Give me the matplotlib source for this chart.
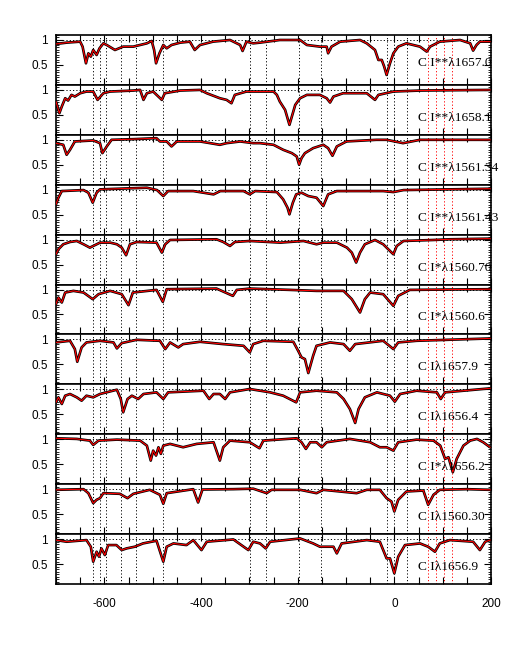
import matplotlib
matplotlib.use('Agg')
import matplotlib.pyplot as plt
from matplotlib.ticker import MultipleLocator, FixedLocator

# ---------------- data ----------------
labels = ["C I**λ1657.0", "C I**λ1658.1", "C I**λ1561.34", "C I**λ1561.43",
          "C I*λ1560.70", "C I*λ1560.6", "C Iλ1657.9", "C Iλ1656.4",
          "C I*λ1656.2", "C Iλ1560.30", "C Iλ1656.9"]

vel1 = [-700, -678, -650, -645, -638, -633, -628, -623, -616, -610, -602, -595, -578, -561, -540,
        -512, -502, -497, -493, -486, -478, -471, -461, -443, -423, -413, -402, -375, -340, -319,
        -314, -306, -292, -278, -237, -195, -181, -154, -140, -137, -130, -112, -71, -57, -40,
        -33, -26, -21, -16, -9, -2, 8, 25, 53, 67, 74, 94, 136, 157, 163, 170, 177, 198]
flux1 = [0.92, 0.947, 0.967, 0.867, 0.533, 0.733, 0.667, 0.8, 0.7, 0.833, 0.933, 0.9, 0.8, 0.867, 0.867,
         0.933, 0.98, 0.8, 0.533, 0.733, 0.9, 0.833, 0.9, 0.947, 0.967, 0.8, 0.9, 0.967, 1.0, 0.9,
         0.78, 0.967, 0.933, 0.947, 1.0, 1.0, 0.9, 0.867, 0.867, 0.733, 0.867, 0.967, 1.0, 0.933, 0.8,
         0.6, 0.6, 0.467, 0.3, 0.533, 0.733, 0.867, 0.933, 0.867, 0.767, 0.867, 0.967, 1.0, 0.933, 0.787,
         0.9, 0.967, 0.967]

vel2 = [-700, -697, -693, -688, -681, -675, -668, -661, -650, -637, -623, -614, -602, -588, -540,
        -526, -519, -512, -499, -481, -475, -443, -402, -388, -361, -347, -337, -330, -306, -278,
        -250, -243, -237, -226, -217, -212, -205, -195, -181, -154, -140, -133, -126, -106, -57,
        -40, -33, -2, 53, 198]
flux2 = [0.767, 0.667, 0.533, 0.667, 0.833, 0.787, 0.9, 0.867, 0.933, 0.967, 0.967, 0.8, 0.933, 0.967, 0.987,
         1.0, 0.8, 0.933, 0.967, 0.8, 0.933, 0.987, 1.0, 0.933, 0.833, 0.8, 0.733, 0.9, 0.967, 0.967,
         0.967, 0.9, 0.767, 0.6, 0.3, 0.467, 0.7, 0.833, 0.9, 0.9, 0.833, 0.747, 0.867, 0.933, 0.933,
         0.8, 0.9, 0.967, 0.987, 1.0]

vel3 = [-700, -685, -678, -671, -661, -623, -609, -604, -595, -585, -540, -492, -485, -471, -461,
        -450, -402, -361, -347, -319, -292, -278, -250, -230, -212, -202, -197, -192, -185, -168,
        -147, -137, -128, -119, -99, -37, -16, 18, 53, 198]
flux3 = [0.933, 0.9, 0.7, 0.8, 0.967, 0.987, 0.933, 0.733, 0.867, 1.0, 1.013, 1.033, 0.967, 0.967, 0.867,
         0.967, 0.967, 0.9, 0.933, 0.967, 0.933, 0.933, 0.9, 0.8, 0.733, 0.667, 0.5, 0.633, 0.733, 0.833,
         0.9, 0.833, 0.68, 0.867, 0.967, 1.0, 1.0, 0.933, 1.0, 1.0]

vel4 = [-700, -695, -688, -643, -633, -624, -616, -609, -512, -491, -478, -468, -416, -374, -360,
        -312, -299, -288, -243, -230, -221, -217, -210, -203, -192, -178, -161, -147, -137, -119,
        -23, -2, 19, 198]
flux4 = [0.707, 0.84, 0.973, 0.993, 0.94, 0.74, 0.94, 1.007, 1.04, 0.993, 0.873, 0.973, 0.973, 0.907, 0.973,
         0.973, 0.907, 0.973, 0.953, 0.807, 0.64, 0.507, 0.74, 0.907, 0.94, 0.873, 0.84, 0.673, 0.907, 0.973,
         0.973, 0.953, 0.993, 1.02]

vel5 = [-700, -695, -685, -671, -657, -643, -630, -623, -609, -588, -574, -564, -555, -547, -533,
        -492, -481, -474, -464, -368, -354, -340, -330, -299, -236, -188, -161, -147, -119, -98,
        -88, -79, -71, -61, -40, -23, -9, -2, 5, 19, 81, 115, 198]
flux5 = [0.707, 0.807, 0.907, 0.953, 0.973, 0.907, 0.84, 0.873, 0.94, 0.94, 0.907, 0.84, 0.687, 0.907, 0.953,
         0.94, 0.74, 0.907, 0.993, 1.007, 0.953, 0.873, 0.953, 0.973, 0.94, 0.973, 0.907, 0.94, 0.94, 0.84,
         0.74, 0.54, 0.74, 0.907, 0.993, 0.907, 0.773, 0.707, 0.873, 0.973, 0.993, 1.007, 1.02]

vel6 = [-700, -695, -688, -681, -664, -643, -624, -612, -588, -564, -550, -541, -492, -479, -471,
        -368, -334, -326, -299, -216, -161, -105, -88, -71, -61, -50, -23, -2, 8, 32, 198]
flux6 = [0.707, 0.84, 0.74, 0.94, 0.973, 0.94, 0.807, 0.907, 0.973, 0.907, 0.687, 0.94, 0.993, 0.753, 1.007,
         1.02, 0.873, 0.993, 1.02, 0.993, 0.973, 0.973, 0.807, 0.54, 0.807, 0.94, 0.907, 0.673, 0.873, 0.993,
         1.007]

vel7 = [-700, -671, -661, -656, -647, -637, -609, -581, -574, -564, -533, -485, -474, -464, -447,
        -437, -402, -354, -312, -299, -292, -271, -209, -199, -192, -185, -178, -168, -161, -133,
        -105, -92, -81, -23, -2, 8, 46, 198]
flux7 = [0.94, 0.973, 0.807, 0.553, 0.84, 0.94, 0.973, 0.94, 0.82, 0.927, 0.993, 0.973, 0.807, 0.94, 0.84,
         0.907, 0.953, 0.907, 0.873, 0.74, 0.907, 0.973, 0.953, 0.773, 0.64, 0.607, 0.327, 0.673, 0.873, 0.94,
         0.907, 0.773, 0.907, 0.973, 0.807, 0.94, 0.973, 1.02]

vel8 = [-700, -695, -688, -681, -671, -657, -647, -637, -623, -609, -574, -566, -561, -552, -543,
        -530, -519, -492, -478, -468, -395, -383, -374, -361, -350, -340, -299, -257, -230, -203,
        -195, -161, -119, -105, -92, -81, -74, -61, -36, -9, 1, 12, 46, 88, 96, 105, 198]
flux8 = [0.74, 0.84, 0.707, 0.873, 0.907, 0.84, 0.773, 0.873, 0.84, 0.907, 0.993, 0.807, 0.54, 0.807, 0.873,
         0.807, 0.907, 0.94, 0.807, 0.94, 0.973, 0.807, 0.907, 0.907, 0.807, 0.94, 1.007, 0.94, 0.873, 0.74,
         0.94, 0.973, 0.94, 0.807, 0.607, 0.327, 0.607, 0.84, 0.94, 0.873, 0.753, 0.907, 0.973, 0.94, 0.807,
         0.94, 1.02]

vel9 = [-700, -657, -630, -623, -612, -574, -526, -512, -504, -499, -493, -488, -483, -478, -464,
        -437, -409, -374, -361, -354, -340, -299, -279, -271, -202, -192, -183, -174, -161, -150,
        -140, -92, -50, -30, -16, -2, 8, 46, 81, 95, 105, 112, 121, 129, 143, 157, 171, 184, 198]
flux9 = [1.02, 1.007, 0.973, 0.887, 0.973, 0.993, 0.973, 0.873, 0.573, 0.773, 0.673, 0.84, 0.707, 0.873, 0.907,
         0.84, 0.907, 0.94, 0.573, 0.84, 0.973, 0.94, 0.82, 0.973, 1.02, 0.94, 0.807, 0.94, 0.94, 0.84,
         0.94, 1.007, 0.94, 0.84, 0.84, 0.773, 0.94, 0.993, 0.973, 0.873, 0.607, 0.64, 0.34, 0.607, 0.873,
         0.973, 1.007, 0.94, 0.84]

vel10 = [-700, -643, -633, -623, -616, -609, -602, -568, -552, -540, -506, -485, -478, -471, -416,
         -406, -397, -333, -292, -264, -254, -195, -161, -147, -78, -57, -30, -16, -6, 0,
         8, 25, 60, 70, 81, 94, 150, 198]
flux10 = [0.987, 1.0, 0.92, 0.72, 0.787, 0.82, 0.92, 0.907, 0.82, 0.907, 0.987, 0.887, 0.707, 0.92, 1.0,
          0.733, 0.993, 1.0, 1.01, 0.92, 0.987, 0.987, 0.92, 0.987, 0.92, 0.987, 0.987, 0.82, 0.753, 0.553,
          0.787, 0.953, 0.973, 0.687, 0.887, 0.987, 1.0, 0.987]

vel11 = [-700, -678, -637, -628, -623, -616, -611, -606, -599, -592, -575, -564, -554, -537, -520,
         -492, -478, -471, -457, -430, -416, -399, -388, -333, -302, -292, -278, -266, -257, -195,
         -168, -154, -126, -119, -109, -57, -30, -16, -9, 0, 8, 22, 53, 70, 84, 94, 115, 163, 177,
         188, 198]
flux11 = [0.98, 0.947, 0.98, 0.847, 0.547, 0.747, 0.647, 0.813, 0.68, 0.88, 0.88, 0.78, 0.813, 0.847, 0.913,
          0.967, 0.547, 0.847, 0.913, 0.88, 0.98, 0.78, 0.947, 0.993, 0.78, 0.947, 0.913, 0.813, 0.947, 1.013,
          0.913, 0.847, 0.847, 0.713, 0.913, 0.98, 0.947, 0.613, 0.613, 0.313, 0.647, 0.88, 0.913, 0.847, 0.747,
          0.913, 0.98, 0.947, 0.78, 0.947, 0.98]

velocities = [vel1, vel2, vel3, vel4, vel5, vel6, vel7, vel8, vel9, vel10, vel11]
fluxes = [flux1, flux2, flux3, flux4, flux5, flux6, flux7, flux8, flux9, flux10, flux11]

component_vels = [-623, -610, -597, -566, -535, -478, -299, -266, -197, -152, -15, 0, 26]
red_component_vels = [70, 86, 103, 120]
xtick_values = [-600, -400, -200, 0, 200]
ytick_values = [0.5, 1]
ytick_labels = ["0.5", "1"]

# ---------------- figure ----------------
W, H = 518, 654
fig = plt.figure(figsize=(W / 100, H / 100), dpi=100)
left_px, right_px, top_px, bottom_px = 56, 491, 35, 584
n = len(labels)
ph = (bottom_px - top_px) / n

for i in range(n):
    y0 = 1 - (top_px + (i + 1) * ph) / H
    ax = fig.add_axes([left_px / W, y0, (right_px - left_px) / W, ph / H])
    ax.set_xlim(-700, 200)
    ax.set_ylim(0.1, 1.1)
    ax.axhline(1.0, color='black', ls=(0, (1.2, 2.2)), lw=0.7, zorder=1)
    for v in component_vels:
        ax.axvline(v, color='black', ls=(0, (1.2, 2.2)), lw=0.7, zorder=1)
    for v in red_component_vels:
        ax.axvline(v, color='red', ls=(0, (1.2, 2.2)), lw=0.7, zorder=1)
    ax.plot(velocities[i], fluxes[i], color='black', lw=1.9, zorder=3,
            solid_joinstyle='round', solid_capstyle='round')
    ax.plot(velocities[i], fluxes[i], color='red', lw=0.8, zorder=4,
            solid_joinstyle='round')
    ytxt = 0.53 if i == 0 else 0.44
    ax.text(49, ytxt, labels[i], fontsize=9.6, family='Liberation Serif',
            ha='left', va='center', clip_on=False, zorder=5)

    for s in ax.spines.values():
        s.set_linewidth(1.2)
    ax.xaxis.set_major_locator(FixedLocator(xtick_values))
    ax.xaxis.set_minor_locator(MultipleLocator(50))
    ax.yaxis.set_major_locator(FixedLocator(ytick_values))
    ax.yaxis.set_minor_locator(MultipleLocator(0.05))
    ax.tick_params(axis='x', which='both', direction='in', top=True, bottom=True,
                   length=5, width=0.8)
    ax.tick_params(axis='y', which='major', direction='in', left=True, right=True,
                   length=5, width=0.8)
    ax.tick_params(axis='y', which='minor', direction='in', left=True, right=True,
                   length=2.2, width=0.6)
    ax.set_yticklabels(ytick_labels, fontsize=8.5, family='Liberation Sans')
    ax.tick_params(axis='y', which='major', pad=6)
    if i == n - 1:
        ax.set_xticklabels([str(t) for t in xtick_values], fontsize=8.5,
                           family='Liberation Sans')
        ax.tick_params(axis='x', which='major', pad=10)
    else:
        ax.set_xticklabels([])

fig.savefig('out.png', dpi=100)
